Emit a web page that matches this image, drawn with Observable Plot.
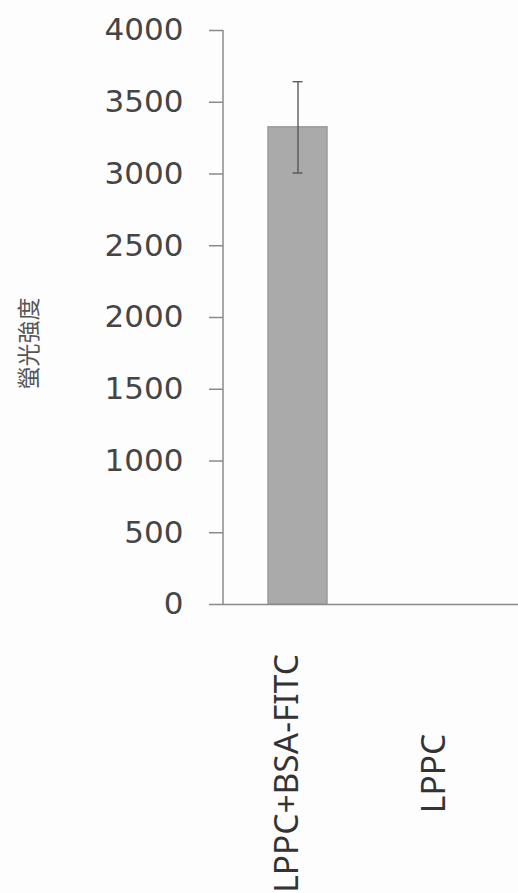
<!DOCTYPE html>
<html>
<head>
<meta charset="utf-8">
<script src="https://cdn.jsdelivr.net/npm/d3@7"></script>
<script src="https://cdn.jsdelivr.net/npm/@observablehq/plot@0.6"></script>
<style>
  html, body { margin: 0; padding: 0; background: #fdfdfd; }
  #chart svg { display: block; background: #fdfdfd; }
</style>
</head>
<body>
<div id="chart"></div>
<script>
const categories = ["LPPC+BSA-FITC", "LPPC"];
const values = [3325, 0];
const errors = [318, 0];
const yTicks = [0, 500, 1000, 1500, 2000, 2500, 3000, 3500, 4000];
const yLabel = "螢光強度";

const data = categories.map((c, i) => ({cat: c, value: values[i], err: errors[i]}));
const errData = data.filter(d => d.err > 0);

const W = 518, H = 893, ML = 223, MT = 30, MB = 289;

const chart = Plot.plot({
  width: W,
  height: H,
  marginLeft: ML,
  marginRight: 0,
  marginTop: MT,
  marginBottom: MB,
  style: {background: "#fdfdfd", overflow: "visible"},
  x: {domain: categories, paddingInner: 0.6, paddingOuter: 0.3, axis: null},
  y: {domain: [0, 4000], axis: null},
  marks: [
    Plot.barY(data, {x: "cat", y: "value", fill: "#aaaaaa", stroke: "#9a9a9a", strokeWidth: 1.5}),
    Plot.ruleY([0], {stroke: "#8a8a8a", strokeWidth: 1.5}),
    Plot.axisY({
      ticks: yTicks, tickSize: 14, tickPadding: 26, label: null,
      fontSize: 31, fontFamily: "DejaVu Sans", fill: "#454545", stroke: "#8a8a8a", strokeWidth: 1.5,
      tickFormat: d => String(d)
    }),
    Plot.ruleX(errData, {x: "cat", y1: d => d.value - d.err, y2: d => d.value + d.err, stroke: "#505050", strokeWidth: 1.3}),
    Plot.tickY(errData, {x: "cat", y: d => d.value + d.err, stroke: "#505050", strokeWidth: 1.3, insetLeft: 24.5, insetRight: 24.5}),
    Plot.tickY(errData, {x: "cat", y: d => d.value - d.err, stroke: "#505050", strokeWidth: 1.3, insetLeft: 24.5, insetRight: 24.5}),
    Plot.text(data, {x: "cat", text: "cat", frameAnchor: "bottom", rotate: -90, dy: 169, textAnchor: "middle",
      fontSize: 33.5, fontFamily: "Noto Sans", fill: "#333"}),
    Plot.text([yLabel], {text: d => d, frameAnchor: "left", dx: -194, dy: 26, rotate: -90, textAnchor: "middle",
      fontSize: 23, fontFamily: "Noto Sans CJK TC", fill: "#555"})
  ]
});

// y-axis line drawn from the y scale
const ys = chart.scale("y");
const svg = d3.select(chart);
svg.append("line")
  .attr("x1", ML).attr("x2", ML)
  .attr("y1", ys.apply(4000)).attr("y2", ys.apply(0))
  .attr("stroke", "#8a8a8a").attr("stroke-width", 1.5);

document.getElementById("chart").appendChild(chart);
</script>
</body>
</html>
